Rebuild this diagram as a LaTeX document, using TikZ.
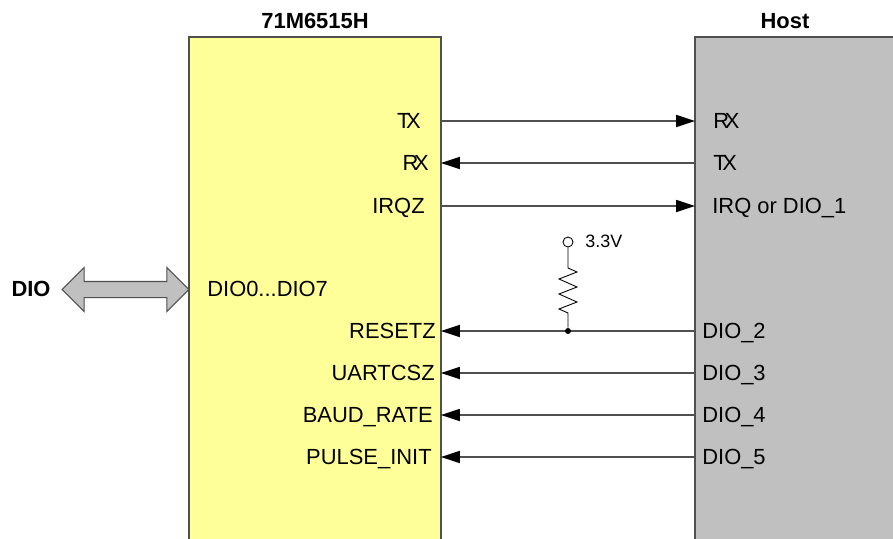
\documentclass[tikz,border=0pt]{standalone}
\usepackage{fontspec}
\setmainfont{Liberation Sans}
\usepackage{xcolor}
\usetikzlibrary{shapes,positioning,calc,arrows.meta}
\definecolor{chipyellow}{HTML}{FFFF99}
\definecolor{hostgray}{HTML}{C0C0C0}
\definecolor{wiregray}{HTML}{505050}
\newcommand{\tightx}[1]{#1\kern-0.2em X}

\begin{document}
\begin{tikzpicture}[
    x=0.02cm, y=-0.02cm,
    every node/.style={font=\fontsize{12.47}{15}\selectfont},
    blocknode/.style={rectangle, draw=wiregray, line width=0.8pt, anchor=north west, minimum height=11cm, outer sep=0pt},
    chiplabel/.style={anchor=east, inner sep=0pt, text height=8.9pt, text depth=0pt},
    hostlabel/.style={anchor=west, inner sep=0pt, text height=8.9pt, text depth=0pt},
    titlenode/.style={inner sep=0pt, font=\fontsize{12.47}{15}\selectfont\bfseries},
    wire/.style={draw=wiregray, line width=0.6pt, -{Triangle[length=0.38cm, width=0.25cm, color=black, fill=black, line width=0pt]}}
]
    \useasboundingbox (0,0) rectangle (893,538);
    \clip (0,0) rectangle (893,538);

    % Blocks
    \node[blocknode, fill=chipyellow, minimum width=5.04cm] (chip) at (189,37) {};
    \node[blocknode, fill=hostgray, minimum width=4.6cm] (host) at (695,37) {};
    \node[titlenode] (chiptitle) at (315,21) {71M6515H};
    \node[titlenode] (hosttitle) at (785,21) {Host};

    % Chip pins
    \node[chiplabel] (txc) at (421,121) {\tightx{T}};
    \node[chiplabel] (rxc) at (429,163) {\tightx{R}};
    \node[chiplabel] (irqc) at (425,206) {IRQZ};
    \node[hostlabel] (dioc) at (207,289) {DIO0...DIO7};
    \node[chiplabel] (rstc) at (436,331) {RESETZ};
    \node[chiplabel] (uartc) at (435,373) {UARTCSZ};
    \node[chiplabel] (baudc) at (433,415) {BAUD\_RATE};
    \node[chiplabel] (pulsec) at (432,457) {PULSE\_INIT};

    % Host pins
    \node[hostlabel] (rxh) at (713,121) {\tightx{R}};
    \node[hostlabel] (txh) at (713,163) {\tightx{T}};
    \node[hostlabel] (irqh) at (712,206) {IRQ or DIO\_1};
    \node[hostlabel] (rsth) at (702,331) {DIO\_2};
    \node[hostlabel] (uarth) at (702,373) {DIO\_3};
    \node[hostlabel] (baudh) at (702,415) {DIO\_4};
    \node[hostlabel] (pulseh) at (702,457) {DIO\_5};

    % Wires
    \draw[wire] (txc -| chip.east) -- (rxh -| host.west);
    \draw[wire] (txh -| host.west) -- (rxc -| chip.east);
    \draw[wire] (irqc -| chip.east) -- (irqh -| host.west);
    \draw[wire] (rsth -| host.west) -- (rstc -| chip.east);
    \draw[wire] (uarth -| host.west) -- (uartc -| chip.east);
    \draw[wire] (baudh -| host.west) -- (baudc -| chip.east);
    \draw[wire] (pulseh -| host.west) -- (pulsec -| chip.east);

    % Pull-up
    \node[circle, draw=black, fill=white, line width=0.5pt, minimum size=0.2cm, inner sep=0pt] (vcc) at (568,242) {};
    \node[circle, fill=black, minimum size=0.12cm, inner sep=0pt] (jn) at (568,331) {};
    \node[anchor=west, inner sep=0pt, font=\fontsize{10.2}{12}\selectfont] (vlabel) at (585,241) {3.3V};
    \draw[line width=0.5pt] (vcc) -- (568,268) -- (577,272) -- (559,279) -- (577,287) -- (559,294)
        -- (577,302) -- (559,309) -- (568,313) -- (jn);

    % DIO bus
    \node[titlenode] (diolabel) at (31,289) {DIO};
    \node[double arrow, draw=wiregray, fill=hostgray, line width=0.6pt, inner sep=0pt, outer sep=0pt,
        minimum width=0.86cm, minimum height=2.54cm, double arrow head extend=0.28cm,
        double arrow tip angle=90, inner ysep=0.15cm] (diobus) at (125.5,289.5) {};
\end{tikzpicture}
\end{document}
